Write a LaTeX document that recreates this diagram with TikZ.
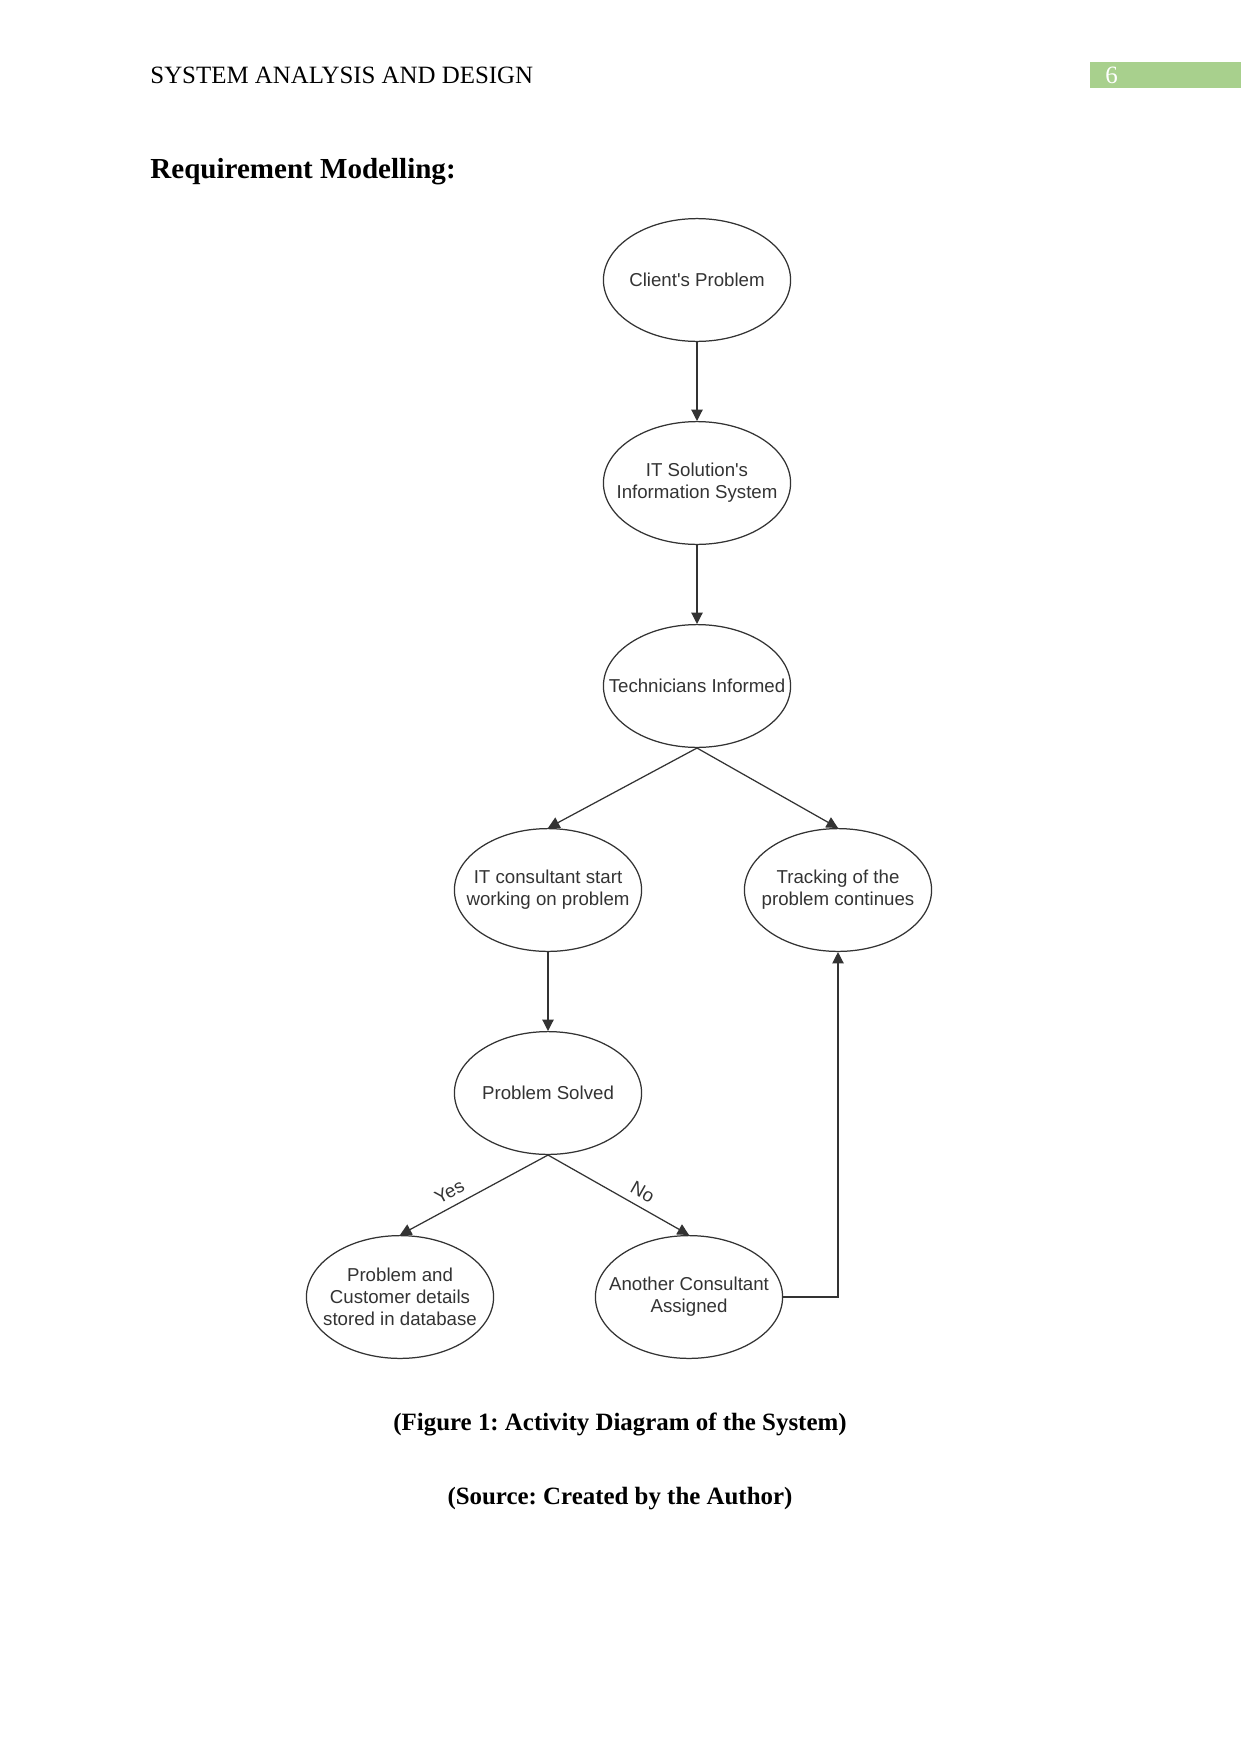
\documentclass[tikz,border=0pt]{standalone}
\usepackage{fontspec}
\setmainfont{Liberation Serif}
\newfontfamily\diagfont{Liberation Sans}
\usetikzlibrary{shapes.geometric,arrows.meta}
\definecolor{hdrgreen}{HTML}{A8D08D}
\definecolor{inkgray}{HTML}{333333}
\frenchspacing
\tikzset{
  activity/.style={ellipse, draw=inkgray, line width=0.6pt,
    minimum width=3.17cm, minimum height=2.08cm,
    inner xsep=-0.6cm, inner ysep=0pt, align=center, text=inkgray,
    font=\diagfont\fontsize{9}{10.5}\selectfont},
  flow/.style={draw=inkgray, line width=0.6pt,
    -{Triangle[length=5.5pt,width=5.5pt]}},
  guard/.style={font=\diagfont\fontsize{9}{10.5}\selectfont, text=inkgray,
    sloped, above=2pt, inner sep=1.5pt, pos=0.62}
}
\begin{document}
\begin{tikzpicture}[x=0.016933cm,y=-0.016933cm]
  \useasboundingbox (0,0) rectangle (1241,1754);
  % page header
  \node[anchor=base west, inner sep=0pt, font=\fontsize{12}{14}\selectfont]
    (runhead) at (150,83) {SYSTEM ANALYSIS AND DESIGN};
  \fill[hdrgreen] (1090,62) rectangle (1241,88);
  \node[anchor=base west, inner sep=0pt, text=white,
    font=\fontsize{12}{14}\selectfont] (pagenum) at (1105,83) {6};
  \node[anchor=base west, inner sep=0pt,
    font=\fontsize{14}{17}\selectfont\bfseries]
    (heading) at (150,178) {Requirement Modelling:};
  % activities
  \node[activity] (client) at (697,280) {Client's Problem};
  \node[activity] (infosys) at (697,483) {IT Solution's\\Information System};
  \node[activity] (techs) at (697,686) {Technicians Informed};
  \node[activity] (consult) at (548,890) {IT consultant start\\working on problem};
  \node[activity] (tracking) at (838,890) {Tracking of the\\problem continues};
  \node[activity] (solved) at (548,1093) {Problem Solved};
  \node[activity] (stored) at (400,1297)
    {Problem and\\Customer details\\stored in database};
  \node[activity] (another) at (689,1297) {Another Consultant\\Assigned};
  % flows
  \draw[flow] (client.south) -- (infosys.north);
  \draw[flow] (infosys.south) -- (techs.north);
  \draw[flow] (techs.south) -- (consult.north);
  \draw[flow] (techs.south) -- (tracking.north);
  \draw[flow] (consult.south) -- (solved.north);
  \draw[flow] (solved.south) -- node[guard] {Yes} (stored.north);
  \draw[flow] (solved.south) -- node[guard] {No} (another.north);
  \draw[flow] (another.east) -| (tracking.south);
  % captions
  \node[anchor=base, inner sep=0pt, font=\fontsize{12}{14}\selectfont\bfseries]
    (figcap) at (620,1430) {(Figure 1: Activity Diagram of the System)};
  \node[anchor=base, inner sep=0pt, font=\fontsize{12}{14}\selectfont\bfseries]
    (srccap) at (620,1504) {(Source: Created by the Author)};
\end{tikzpicture}
\end{document}
